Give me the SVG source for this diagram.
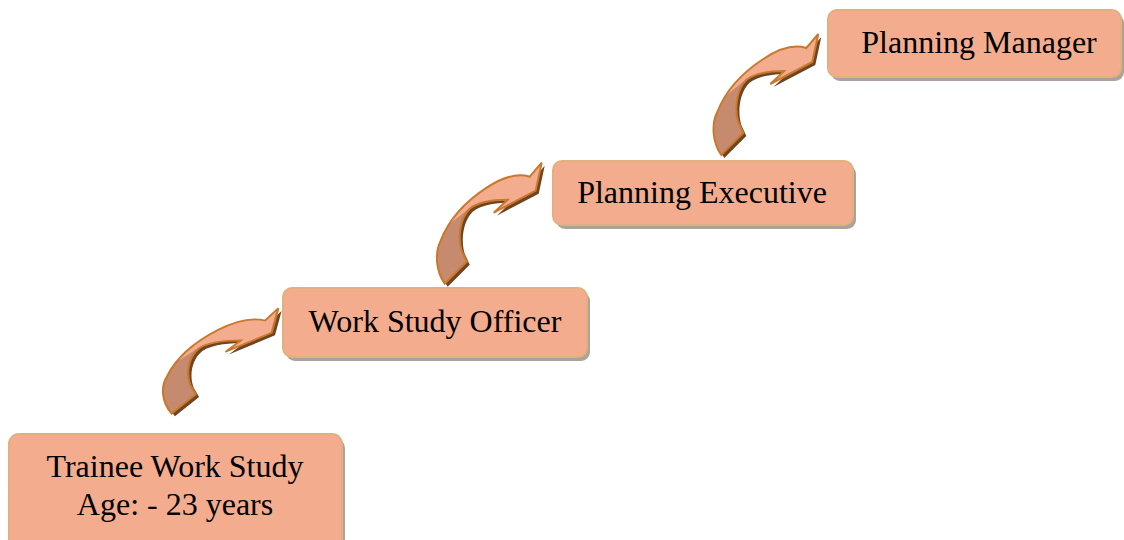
<svg xmlns="http://www.w3.org/2000/svg" xmlns:xlink="http://www.w3.org/1999/xlink" width="1124" height="540" viewBox="0 0 1124 540">
<style>
.box{fill:#F4AC8F;stroke:#E2B07C;stroke-width:2}
.shadow{fill:#A9A39C}
.lbl{font-family:"Liberation Serif","Times New Roman",serif;font-size:32px;fill:#000;text-anchor:middle}
.arrfill{fill:#F4AC8E;stroke:none}
.arrline{fill:none;stroke:#C9782C;stroke-width:2;stroke-linejoin:miter}
.arrsh{fill:#6E4421}
.arrdark{fill:#C68B6F}
</style>
<defs>
<path id="arrowShape" d="M0,0 L-6,28 L-48,50 L-34,37 C-45,37 -62,38 -72,46 C-82,56 -84,75 -80,88 L-75,99 L-97,121 C-106,108 -107,90 -101,78 C-92,55 -75,38 -55,25 C-40,15 -25,10 -12,14 Z"/>
<clipPath id="arrowClip"><path d="M0,0 L-6,28 L-48,50 L-34,37 C-45,37 -62,38 -72,46 C-82,56 -84,75 -80,88 L-75,99 L-97,121 C-106,108 -107,90 -101,78 C-92,55 -75,38 -55,25 C-40,15 -25,10 -12,14 Z"/></clipPath>
<g id="arrow">
<use xlink:href="#arrowShape" class="arrsh" transform="translate(3,3)"/>
<use xlink:href="#arrowShape" class="arrfill"/>
<polygon class="arrdark" clip-path="url(#arrowClip)" points="-120,72 -93,62 -68,42 -40,60 -40,140 -120,140"/>
<use xlink:href="#arrowShape" class="arrline"/>
</g>
</defs>
<g id="connectors">
<use xlink:href="#arrow" transform="translate(278.3,308.3) scale(1.1,0.87)"/>
<use xlink:href="#arrow" transform="translate(541.7,162.7)"/>
<use xlink:href="#arrow" transform="translate(818.3,34)"/>
</g>
<g id="node-trainee">
<rect class="shadow" x="12" y="438" width="333" height="120" rx="10"/>
<rect class="box" x="9" y="434" width="333" height="120" rx="10"/>
<text class="lbl" x="175" y="477">Trainee Work Study</text>
<text class="lbl" x="175" y="515">Age: - 23 years</text>
</g>
<g id="node-wso">
<rect class="shadow" x="286" y="292" width="304" height="69" rx="9"/>
<rect class="box" x="283" y="288" width="304" height="69" rx="9"/>
<text class="lbl" x="435" y="332">Work Study Officer</text>
</g>
<g id="node-pe">
<rect class="shadow" x="556" y="165" width="300" height="64" rx="9"/>
<rect class="box" x="553" y="161" width="300" height="64" rx="9"/>
<text class="lbl" x="702" y="203">Planning Executive</text>
</g>
<g id="node-pm">
<rect class="shadow" x="831" y="14" width="293" height="67" rx="9"/>
<rect class="box" x="828" y="10" width="293" height="67" rx="9"/>
<text class="lbl" x="979" y="53">Planning Manager</text>
</g>
</svg>
